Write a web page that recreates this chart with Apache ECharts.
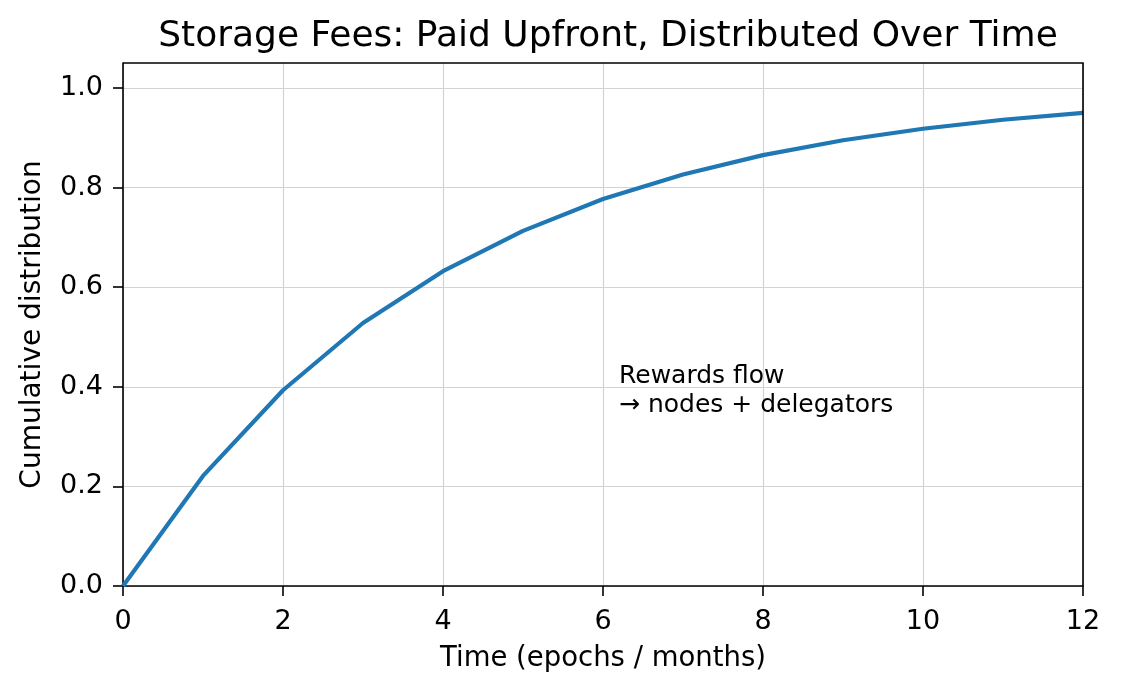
<!DOCTYPE html>
<html><head><meta charset="utf-8">
<script src="https://cdn.jsdelivr.net/npm/echarts@6/dist/echarts.min.js"></script>
<style>html,body{margin:0;padding:0;background:#fff}#c{width:1121px;height:693px}</style>
</head><body><div id="c"></div>
<script>
const epochs = [0,1,2,3,4,5,6,7,8,9,10,11,12];
const cumulative = [0.0,0.221,0.393,0.528,0.632,0.713,0.777,0.826,0.865,0.895,0.918,0.936,0.950];
const xTicks = [0,2,4,6,8,10,12];
const yTicks = [0,0.2,0.4,0.6,0.8,1.0];
const titleText = 'Storage Fees: Paid Upfront, Distributed Over Time';
const annotation = ['Rewards flow','→ nodes + delegators'];
const annotationAt = [6.2, 0.35];

const F = 'DejaVu Sans';
const chart = echarts.init(document.getElementById('c'), null, {renderer:'canvas'});
chart.setOption({
  animation:false,
  title:{text:titleText,left:603,textAlign:'center',top:14,textStyle:{fontFamily:F,fontSize:36,fontWeight:'normal',color:'#000'}},
  grid:{left:123,right:38,top:63,bottom:107,containLabel:false},
  xAxis:{type:'value',min:0,max:12,interval:2,name:'Time (epochs / months)',nameLocation:'middle',nameGap:59,
    nameTextStyle:{fontFamily:F,fontSize:27.5,color:'#000'},
    axisLine:{show:true,onZero:false,lineStyle:{color:'#000',width:1.6}},
    axisTick:{show:true,length:10,customValues:xTicks,lineStyle:{color:'#000',width:1.6}},
    axisLabel:{fontFamily:F,fontSize:27,color:'#000',margin:22,customValues:xTicks},
    splitLine:{show:true,lineStyle:{color:'#d3d3d3',width:1.2}}},
  yAxis:{type:'value',min:0,max:1.05,interval:0.2,name:'Cumulative distribution',nameLocation:'middle',nameGap:76,
    nameTextStyle:{fontFamily:F,fontSize:28,color:'#000'},
    axisLine:{show:true,onZero:false,lineStyle:{color:'#000',width:1.6}},
    axisTick:{show:true,length:10,customValues:yTicks,lineStyle:{color:'#000',width:1.6}},
    axisLabel:{fontFamily:F,fontSize:27,color:'#000',margin:20,customValues:yTicks,formatter:v=>v.toFixed(1)},
    splitLine:{show:true,lineStyle:{color:'#d3d3d3',width:1.2}}},
  series:[
    {type:'line',data:epochs.map((e,i)=>[e,cumulative[i]]),showSymbol:false,lineStyle:{color:'#1f77b4',width:4.2},clip:false}
  ]
});
const p0 = chart.convertToPixel({gridIndex:0},[0,1.05]);
const p1 = chart.convertToPixel({gridIndex:0},[12,0]);
const pa = chart.convertToPixel({gridIndex:0},annotationAt);
chart.setOption({graphic:[
  {type:'polyline',shape:{points:[[p0[0],p0[1]],[p1[0],p0[1]],[p1[0],p1[1]]]},style:{stroke:'#000',lineWidth:1.6,fill:null},z:10},
  {type:'text',x:pa[0],y:pa[1]+8,style:{text:annotation.join('\n'),fontFamily:F,fontSize:25,lineHeight:29,fill:'#000',textVerticalAlign:'bottom',textAlign:'left'},z:10}
]});
</script></body></html>
